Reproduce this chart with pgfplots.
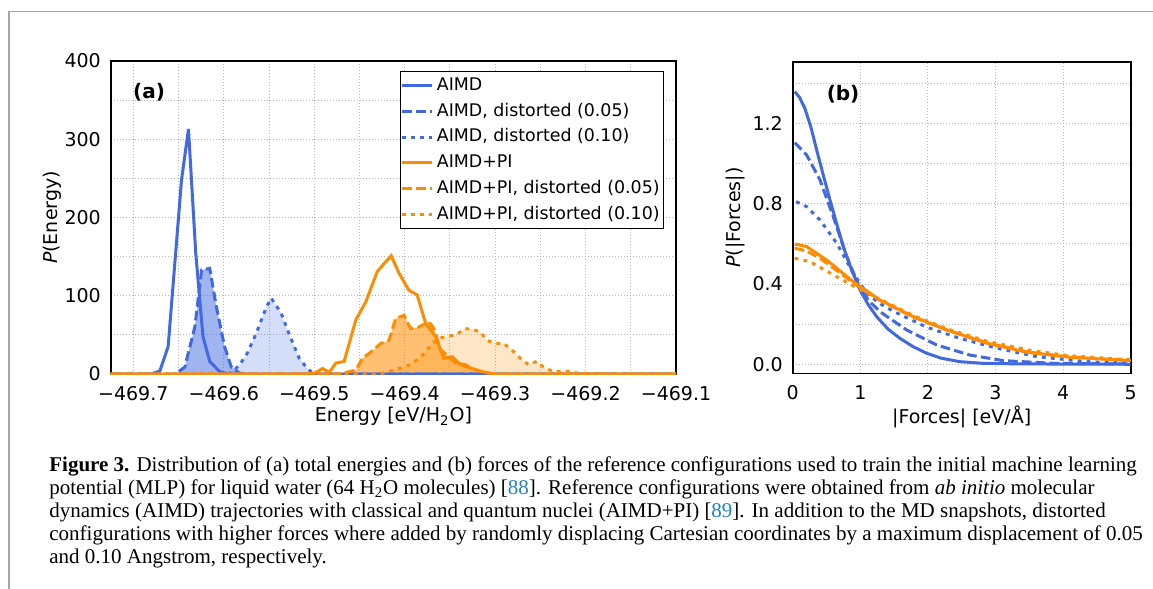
\documentclass[border=0pt]{standalone}
\usepackage{fontspec}
\setmainfont{DejaVu Sans}[ItalicFont={DejaVu Sans Oblique},BoldFont={DejaVu Sans Bold},BoldItalicFont={DejaVu Sans Bold Oblique}]
\newfontfamily\capfont{Liberation Serif}
\usepackage{pgfplots}
\pgfplotsset{compat=1.18}
\usepackage{pgfplotstable}
\definecolor{cblue}{RGB}{65,105,225}
\definecolor{corange}{RGB}{255,140,0}
\definecolor{citeblue}{RGB}{30,130,200}

% ---------- panel (a): energy distributions ----------
\pgfplotstableread{
x y
-469.725 0
-469.680 0
-469.6706 4
-469.6615 35
-469.6467 248
-469.6390 313
-469.6310 155
-469.6230 48
-469.6155 16
-469.6045 3
-469.595 0
-469.1 0
}\tabAa
\pgfplotstableread{
x y
-469.725 0
-469.655 0
-469.6522 1
-469.6430 9
-469.6320 60
-469.6245 133
-469.6155 135
-469.6082 86
-469.5991 35
-469.5917 9
-469.5825 1
-469.575 0
-469.1 0
}\tabAb
\pgfplotstableread{
x y
-469.725 0
-469.596 0
-469.5899 3
-469.5825 12
-469.5751 24
-469.5641 52
-469.5531 85
-469.5476 97
-469.5366 78
-469.5274 50
-469.5165 20
-469.5090 9
-469.5018 1
-469.495 0
-469.1 0
}\tabAc
\pgfplotstableread{
x y
-469.725 0
-469.510 0
-469.4995 1
-469.4907 7
-469.4834 2
-469.4760 14
-469.4669 16
-469.4540 69
-469.4430 92
-469.4302 131
-469.4228 141
-469.4148 151
-469.4063 129
-469.3953 107
-469.3861 101
-469.3769 65
-469.3659 48
-469.3567 20
-469.3476 22
-469.3383 12
-469.3256 7
-469.3145 3
-469.2998 0
-469.1 0
}\tabAd
\pgfplotstableread{
x y
-469.725 0
-469.475 0
-469.4687 1
-469.4613 3
-469.4540 5
-469.4467 20
-469.4374 28
-469.4264 39
-469.4173 43
-469.4099 71
-469.4008 75
-469.3934 58
-469.3843 60
-469.3732 67
-469.3677 58
-469.3604 31
-469.3531 24
-469.3438 14
-469.3328 12
-469.3256 7
-469.3145 3
-469.3035 0
-469.1 0
}\tabAe
\pgfplotstableread{
x y
-469.725 0
-469.430 0
-469.4247 1
-469.4063 7
-469.3934 12
-469.3843 20
-469.3769 28
-469.3696 39
-469.3622 46
-469.3531 48
-469.3438 50
-469.3328 58
-469.3256 57
-469.3163 54
-469.3090 43
-469.2998 39
-469.2906 39
-469.2815 31
-469.2722 20
-469.2631 12
-469.2540 16
-469.2447 7
-469.2337 3
-469.2227 4
-469.2081 1
-469.1896 0
-469.1 0
}\tabAf

% ---------- panel (b): force distributions ----------
\pgfplotstableread{
x y
0.03 1.358
0.10 1.330
0.18 1.275
0.27 1.180
0.355 1.067
0.45 0.945
0.552 0.818
0.65 0.700
0.749 0.586
0.87 0.470
0.996 0.370
1.12 0.295
1.243 0.237
1.41 0.175
1.587 0.129
1.78 0.088
1.98 0.055
2.20 0.030
2.47 0.013
2.80 0.005
3.30 0.002
4.00 0.001
5.00 0.000
}\tabBa
\pgfplotstableread{
x y
0.03 1.104
0.207 1.042
0.404 0.918
0.60 0.735
0.799 0.536
0.996 0.378
1.13 0.315
1.29 0.262
1.686 0.171
2.13 0.096
2.62 0.046
3.115 0.018
3.85 0.005
5.00 0.001
}\tabBb
\pgfplotstableread{
x y
0.05 0.810
0.207 0.785
0.404 0.719
0.651 0.603
0.897 0.453
1.095 0.354
1.30 0.300
1.50 0.262
1.98 0.185
2.47 0.129
3.02 0.080
3.61 0.038
4.35 0.013
5.00 0.005
}\tabBc
\pgfplotstableread{
x y
0.03 0.599
0.207 0.586
0.503 0.519
0.897 0.411
1.29 0.320
1.785 0.237
2.28 0.171
2.87 0.105
3.46 0.060
4.10 0.035
5.00 0.018
}\tabBd
\pgfplotstableread{
x y
0.03 0.578
0.20 0.565
0.404 0.528
0.70 0.455
0.90 0.405
1.30 0.316
1.80 0.233
2.30 0.168
2.90 0.104
3.50 0.060
4.10 0.036
5.00 0.019
}\tabBe
\pgfplotstableread{
x y
0.03 0.528
0.256 0.511
0.651 0.436
0.996 0.372
1.30 0.322
1.80 0.240
2.30 0.175
2.87 0.115
3.50 0.070
4.10 0.042
5.00 0.022
}\tabBf

\pgfplotsset{
  common/.style={
    scale only axis, anchor=south west,
    axis line style={line width=0.8pt, black},
    major tick length=0pt, minor tick length=0pt,
    xmajorgrids, ymajorgrids, xminorgrids, yminorgrids,
    major grid style={color=black!28, line width=0.45pt, dash pattern=on 0.6pt off 0.9pt},
    minor grid style={color=black!28, line width=0.45pt, dash pattern=on 0.6pt off 0.9pt},
    tick label style={font=\fontsize{9.5}{11}\selectfont},
    label style={font=\fontsize{9.5}{11}\selectfont},
    xticklabel style={yshift=-2.7pt},
    yticklabel style={xshift=-1.4pt},
    legend image code/.code={\draw[##1] (0pt,0pt) -- (14.7pt,0pt);},
  },
  solidl/.style={line width=1.5pt},
  dashl/.style={line width=1.5pt, dash pattern=on 4.8pt off 2.1pt},
  dotl/.style={line width=1.5pt, dash pattern=on 1.9pt off 2.6pt},
}

\begin{document}
\begin{tikzpicture}
\path[use as bounding box] (0,0) rectangle (576.5pt,-294.5pt);
\draw[black!35, line width=0.7pt] (4.5pt,-294.5pt) -- (4.5pt,-5.85pt) -- (576.5pt,-5.85pt);

\begin{axis}[common,
  at={(55.35pt,-187pt)}, width=282.65pt, height=156.5pt,
  xmin=-469.725, xmax=-469.1, ymin=0, ymax=400,
  xtick={-469.7,-469.6,-469.5,-469.4,-469.3,-469.2,-469.1},
  xticklabels={−469.7,−469.6,−469.5,−469.4,−469.3,−469.2,−469.1},
  minor xtick={-469.65,-469.55,-469.45,-469.35,-469.25,-469.15},
  ytick={0,100,200,300,400}, yticklabels={0,100,200,300,400},
  minor ytick={50,150,250,350},
  xlabel={Energy [eV/H\textsubscript{2}O]},
  ylabel={\textit{P}(Energy)},
  xlabel style={at={(axis description cs:0.5,-0.1361)}, anchor=center},
  ylabel style={at={(axis description cs:-0.1038,0.5)}, anchor=center},
  legend style={at={(axis description cs:0.512,0.968)}, anchor=north west,
    draw=black, line width=0.6pt, inner xsep=0pt, inner ysep=0.3pt,
    font=\fontsize{8.7}{10}\selectfont,
    nodes={inner xsep=1.9pt, inner ysep=2.13pt, text height=6.8pt, text depth=1.9pt}},
  legend cell align=left,
]
\addplot[draw=none, fill=cblue, fill opacity=0.5, forget plot] table {\tabAb} \closedcycle;
\addplot[draw=none, fill=cblue, fill opacity=0.22, forget plot] table {\tabAc} \closedcycle;
\addplot[draw=none, fill=corange, fill opacity=0.55, forget plot] table {\tabAe} \closedcycle;
\addplot[draw=none, fill=corange, fill opacity=0.22, forget plot] table {\tabAf} \closedcycle;
\addplot[cblue, solidl] table {\tabAa};
\addplot[cblue, dashl] table {\tabAb};
\addplot[cblue, dotl] table {\tabAc};
\addplot[corange, solidl] table {\tabAd};
\addplot[corange, dashl] table {\tabAe};
\addplot[corange, dotl] table {\tabAf};
\legend{AIMD, {AIMD, distorted (0.05)}, {AIMD, distorted (0.10)}, AIMD+PI, {AIMD+PI, distorted (0.05)}, {AIMD+PI, distorted (0.10)}}
\node[font=\bfseries\fontsize{10}{12}\selectfont] at (axis description cs:0.0678,0.899) {(a)};
\end{axis}

\begin{axis}[common,
  at={(396.35pt,-186.65pt)}, width=169pt, height=155.8pt,
  xmin=0, xmax=5, ymin=-0.045, ymax=1.507,
  xtick={0,1,2,3,4,5}, xticklabels={0,1,2,3,4,5},
  ytick={0,0.4,0.8,1.2}, yticklabels={0.0,0.4,0.8,1.2},
  minor ytick={0.2,0.6,1.0,1.4},
  xlabel={|Forces| [eV/Å]},
  ylabel={\textit{P}(|Forces|)},
  xlabel style={at={(axis description cs:0.5,-0.1393)}, anchor=center},
  ylabel style={at={(axis description cs:-0.1707,0.5)}, anchor=center},
]
\addplot[cblue, solidl] table {\tabBa};
\addplot[cblue, dashl] table {\tabBb};
\addplot[cblue, dotl] table {\tabBc};
\addplot[corange, solidl] table {\tabBd};
\addplot[corange, dashl] table {\tabBe};
\addplot[corange, dotl] table {\tabBf};
\node[font=\bfseries\fontsize{10}{12}\selectfont] at (axis description cs:0.149,0.896) {(b)};
\end{axis}

\begin{scope}[every node/.style={anchor=base west, inner sep=0pt, font=\capfont\fontsize{10.5}{11.6}\selectfont}]
\node at (24.5pt,-235.5pt) {\textbf{Figure 3.} Distribution of (a) total energies and (b) forces of the reference configurations used to train the initial machine learning};
\node at (24.5pt,-247.1pt) {potential (MLP) for liquid water (64 H\textsubscript{2}O molecules) [\textcolor{citeblue}{88}]. Reference configurations were obtained from \textit{ab initio} molecular};
\node at (24.5pt,-258.7pt) {dynamics (AIMD) trajectories with classical and quantum nuclei (AIMD+PI) [\textcolor{citeblue}{89}]. In addition to the MD snapshots, distorted};
\node at (24.5pt,-270.3pt) {configurations with higher forces where added by randomly displacing Cartesian coordinates by a maximum displacement of 0.05};
\node at (24.5pt,-281.9pt) {and 0.10 Angstrom, respectively.};
\end{scope}
\end{tikzpicture}
\end{document}
